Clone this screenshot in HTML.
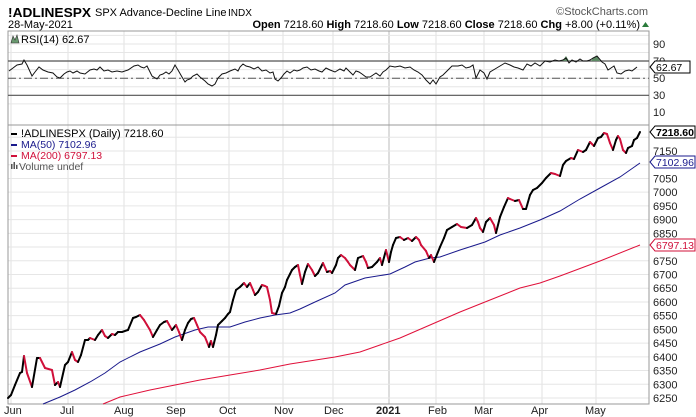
<!DOCTYPE html>
<html><head><meta charset="utf-8"><style>
html,body{margin:0;padding:0;background:#fff;width:696px;height:417px;overflow:hidden}
svg{display:block;font-family:"Liberation Sans",sans-serif}
</style></head><body>
<svg id="s" width="696" height="417" viewBox="0 0 696 417" xmlns="http://www.w3.org/2000/svg">
<g id="grid"></g>
<rect x="8" y="31" width="641" height="94" fill="none" stroke="#999" stroke-width="1"/>
<rect x="8" y="125" width="641" height="279" fill="none" stroke="#999" stroke-width="1"/>
<line x1="8" y1="61" x2="649" y2="61" stroke="#555" stroke-width="1.2"/>
<line x1="8" y1="95.3" x2="649" y2="95.3" stroke="#555" stroke-width="1.2"/>
<line x1="8" y1="78.3" x2="649" y2="78.3" stroke="#555" stroke-width="1" stroke-dasharray="8,3,2,3"/>
<g id="series"></g>
<text x="8" y="17" font-size="13" font-weight="bold" fill="#000" textLength="83" lengthAdjust="spacingAndGlyphs">!ADLINESPX</text>
<text x="95" y="16" font-size="11" fill="#000">SPX Advance-Decline Line</text>
<text x="228" y="16" font-size="10" fill="#000">INDX</text>
<text x="648" y="15" font-size="11" fill="#555" text-anchor="end">©StockCharts.com</text>
<text x="8" y="28" font-size="11" fill="#000">28-May-2021</text>
<text x="640" y="28" font-size="11" fill="#000" text-anchor="end"><tspan font-weight="bold">Open</tspan> 7218.60 <tspan font-weight="bold">High</tspan> 7218.60 <tspan font-weight="bold">Low</tspan> 7218.60 <tspan font-weight="bold">Close</tspan> 7218.60 <tspan font-weight="bold">Chg</tspan> +8.00 (+0.11%)</text>
<path d="M642 27 L649 27 L645.5 22 Z" fill="#2a7a3a"/>
<path d="M11 43 L13 36 L15 40 L17 35 L19 43 Z" fill="#6a9a70" stroke="#333" stroke-width="0.6"/>
<text x="21" y="43" font-size="11" fill="#000">RSI(14) 62.67</text>
<line x1="11" y1="134" x2="17" y2="134" stroke="#000" stroke-width="2"/>
<text x="21" y="137" font-size="11" fill="#000">!ADLINESPX (Daily) 7218.60</text>
<line x1="11" y1="145" x2="17" y2="145" stroke="#1a1a8c" stroke-width="2"/>
<text x="21" y="148" font-size="10.5" fill="#1a1a8c">MA(50) 7102.96</text>
<line x1="11" y1="156" x2="17" y2="156" stroke="#d0103a" stroke-width="2"/>
<text x="21" y="159" font-size="10.5" fill="#d0103a">MA(200) 6797.13</text>
<rect x="11" y="164" width="1.5" height="5" fill="#555"/><rect x="13.5" y="162" width="1.5" height="7" fill="#555"/><rect x="16" y="165" width="1.5" height="4" fill="#555"/>
<text x="19" y="170" font-size="10.5" fill="#555">Volume undef</text>
<g font-size="11" fill="#222" id="ax">
<text x="653" y="48">90</text><text x="653" y="65">70</text><text x="653" y="82">50</text><text x="653" y="99">30</text><text x="653" y="116">10</text>
</g>
<g font-size="11" fill="#222" id="mon">
<text x="4" y="414">Jun</text><text x="60" y="414">Jul</text><text x="114" y="414">Aug</text><text x="166" y="414">Sep</text><text x="219" y="414">Oct</text><text x="274" y="414">Nov</text><text x="324" y="414">Dec</text><text x="376" y="414" font-weight="bold">2021</text><text x="428" y="414">Feb</text><text x="474" y="414">Mar</text><text x="531" y="414">Apr</text><text x="585" y="414">May</text>
</g>
<path d="M650 132 L655 126 L695 126 L695 138 L655 138 Z" fill="#fff" stroke="#000"/>
<text x="656" y="136" font-size="10.5" font-weight="bold" fill="#000">7218.60</text>
<path d="M650 162 L655 156 L695 156 L695 168 L655 168 Z" fill="#fff" stroke="#1a1a8c"/>
<text x="656" y="166" font-size="10.5" fill="#1a1a8c">7102.96</text>
<path d="M650 245 L655 239 L695 239 L695 251 L655 251 Z" fill="#fff" stroke="#d0103a"/>
<text x="656" y="249" font-size="10.5" fill="#d0103a">6797.13</text>
<path d="M650 67 L655 61 L690 61 L690 73 L655 73 Z" fill="#fff" stroke="#000"/>
<text x="656" y="71" font-size="10.5" fill="#000">62.67</text>
</svg>
<script>
var NS="http://www.w3.org/2000/svg";
function el(p,t,a){var e=document.createElementNS(NS,t);for(var k in a)e.setAttribute(k,a[k]);document.getElementById(p).appendChild(e);return e;}
var vx=[11,68,124,176,229,283,333,389,436,484,542,596];
vx.forEach(function(x){el("grid","line",{x1:x,y1:31,x2:x,y2:404,stroke:x==389?"#bbb":"#e0e0e0","stroke-width":1});});
for(var v=10;v<=90;v+=10){var y=112.5-v*0.857;el("grid","line",{x1:8,y1:y,x2:649,y2:y,stroke:"#e6e6e6"});}
var ax=document.getElementById("ax");
for(var p=6250;p<=7200;p+=50){var y=137.3+(7200-p)*0.2744;el("grid","line",{x1:8,y1:y,x2:649,y2:y,stroke:"#e6e6e6"});
 if(p<7200&&Math.abs(y-162)>6&&Math.abs(y-245)>6){var t=document.createElementNS(NS,"text");t.setAttribute("x",653);t.setAttribute("y",y+4);t.textContent=p;ax.appendChild(t);}}
function pts(a){return a.map(function(p){return p[0]+","+p[1]}).join(" ");}
var ma200=[[103,404],[120,397],[150,390],[175,385],[200,380],[230,375],[260,370],[290,364],[335,357],[360,352],[380,345],[400,338],[430,325],[460,312],[490,300],[520,288],[540,283],[560,276],[600,261],[640,245]];
var ma50=[[43,404],[60,397],[75,390],[90,382],[105,373],[120,362],[140,352],[160,344],[175,337],[195,330],[208,327],[230,327],[245,322],[260,318],[275,315],[290,313],[300,309],[315,302],[335,293],[345,285],[365,278],[390,274],[405,267],[415,262],[430,258],[440,257],[460,250],[485,242],[500,235],[520,228],[540,220],[560,211],[580,199],[600,188],[620,177],[640,163]];
el("series","polyline",{points:pts(ma200),fill:"none",stroke:"#e0103a","stroke-width":1});
el("series","polyline",{points:pts(ma50),fill:"none",stroke:"#1a1a8c","stroke-width":1});
var pr=[[8,398],[11,395],[15,385],[20,373],[22,372],[24,356],[27,373],[32,387],[37,358],[40,358],[45,368],[52,370],[55,385],[58,382],[60,387],[65,365],[68,362],[72,352],[75,360],[78,362],[81,355],[85,340],[88,340],[90,338],[95,340],[98,335],[102,330],[105,336],[108,338],[112,334],[115,335],[118,332],[122,332],[128,330],[133,318],[136,317],[140,315],[144,320],[147,325],[150,330],[153,337],[157,330],[160,325],[164,322],[167,321],[172,330],[176,325],[179,332],[182,340],[185,330],[188,323],[191,319],[194,318],[197,325],[200,332],[205,337],[209,347],[211,341],[213,347],[216,335],[218,325],[222,321],[225,318],[228,314],[230,312],[233,300],[236,290],[240,287],[244,283],[247,287],[250,283],[253,290],[255,295],[258,292],[262,285],[265,286],[267,287],[270,300],[272,313],[276,314],[279,306],[282,293],[285,287],[287,280],[290,274],[292,270],[295,267],[298,265],[300,275],[302,284],[305,272],[308,264],[312,270],[315,276],[318,273],[321,267],[323,263],[327,272],[330,271],[332,273],[336,265],[338,258],[341,255],[345,258],[348,262],[350,265],[355,270],[358,258],[363,256],[366,262],[368,268],[372,267],[377,262],[380,258],[382,265],[386,250],[389,262],[391,252],[393,245],[396,238],[400,237],[404,240],[408,238],[412,241],[416,237],[419,240],[421,245],[426,251],[429,258],[431,255],[434,262],[436,257],[440,247],[444,238],[447,230],[452,227],[457,224],[461,227],[467,228],[472,225],[476,218],[478,222],[480,228],[483,232],[486,222],[490,218],[494,225],[496,233],[500,217],[504,207],[508,198],[510,199],[515,201],[519,200],[523,209],[526,209],[530,195],[533,190],[537,188],[542,183],[546,178],[551,173],[555,174],[560,176],[563,165],[566,161],[571,158],[574,159],[578,150],[583,152],[586,150],[590,142],[594,146],[598,138],[601,137],[604,133],[607,134],[610,143],[613,150],[616,140],[618,136],[620,139],[623,150],[626,153],[628,148],[632,146],[634,140],[637,138],[640,132]];
for(var i=1;i<pr.length;i++){var a=pr[i-1],b=pr[i];el("series","line",{x1:a[0],y1:a[1],x2:b[0],y2:b[1],stroke:b[1]>a[1]?"#d0103a":"#000","stroke-width":2,"stroke-linecap":"round"});}
var rsi=[[9,71],[13,68],[17,65],[22,64],[24,60],[27,65],[32,76],[35,72],[39,67],[43,70],[48,72],[53,73],[57,77],[60,78],[64,74],[67,72],[70,71],[73,73],[77,71],[80,73],[85,74],[90,70],[94,69],[97,70],[100,67],[104,71],[108,70],[112,72],[117,71],[122,72],[128,70],[134,66],[138,65],[141,67],[144,68],[147,66],[152,76],[157,79],[160,75],[163,74],[166,72],[169,74],[172,71],[175,65],[178,70],[182,77],[185,82],[187,80],[190,79],[193,76],[197,74],[200,77],[205,81],[208,84],[212,86],[215,84],[218,78],[222,74],[226,73],[230,71],[235,69],[238,71],[240,67],[243,64],[246,66],[250,67],[254,69],[258,67],[262,71],[266,70],[270,73],[273,72],[275,79],[278,81],[281,78],[284,74],[287,71],[290,73],[294,70],[297,71],[300,70],[303,68],[307,67],[311,70],[315,69],[319,71],[322,72],[326,68],[330,70],[335,72],[340,69],[344,71],[346,68],[350,72],[353,75],[356,71],[359,72],[362,74],[366,77],[370,77],[373,75],[376,73],[380,76],[383,72],[386,70],[390,66],[395,67],[400,66],[405,68],[410,67],[414,70],[418,72],[422,75],[426,80],[430,84],[433,80],[436,84],[440,77],[443,75],[448,70],[452,66],[458,66],[462,65],[466,68],[470,67],[473,65],[476,78],[480,70],[484,73],[487,79],[490,72],[495,69],[500,66],[505,63],[510,65],[514,67],[518,68],[523,70],[527,64],[531,66],[535,63],[540,66],[545,61],[550,62],[555,60],[559,61],[563,60],[566,58],[569,63],[572,60],[576,62],[580,59],[583,61],[587,61],[590,60],[593,58],[597,56],[602,62],[605,64],[608,70],[611,68],[614,66],[617,73],[621,74],[625,71],[629,70],[632,71],[637,67]];
el("series","path",{d:"M559,61 L563,60 L566,56 L569,61 Z",fill:"#5d8a64"});
el("series","path",{d:"M591,61 L593,58 L597,56 L600,61 Z",fill:"#5d8a64"});
el("series","polyline",{points:pts(rsi),fill:"none",stroke:"#111","stroke-width":1});
</script>
</body></html>
